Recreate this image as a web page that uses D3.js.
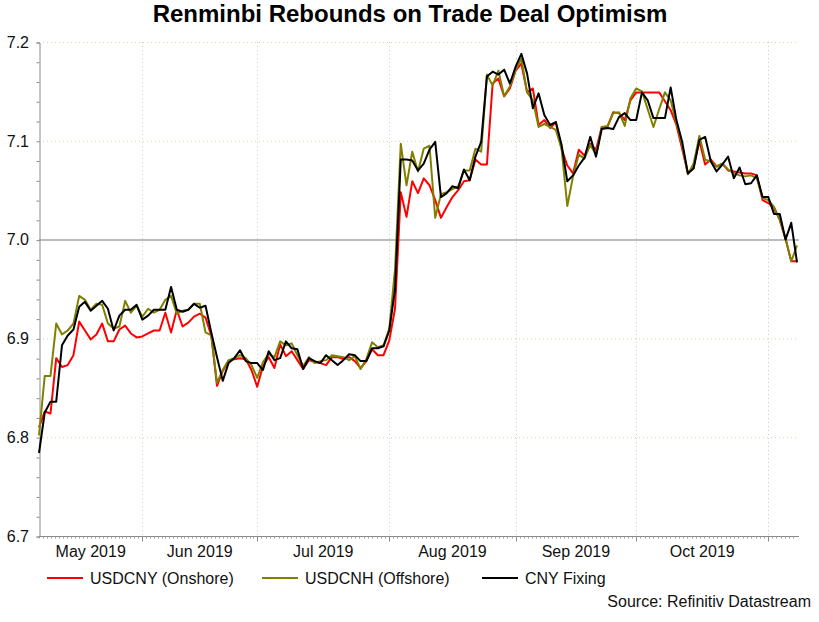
<!DOCTYPE html>
<html>
<head>
<meta charset="utf-8">
<script src="https://cdn.jsdelivr.net/npm/d3@7"></script>
<style>
  body { margin: 0; background: #fff; }
  svg { display: block; font-family: Arial, 'Liberation Sans', sans-serif; }
</style>
</head>
<body>
<svg id="chart" width="819" height="622"></svg>
<script>
const TITLE = 'Renminbi Rebounds on Trade Deal Optimism'
const SOURCE = 'Source: Refinitiv Datastream'

// business-day index where each month begins (first value = first observation)
const MONTH_BOUNDS = [0, 18, 38, 61, 83, 104, 127, 132]
const MONTH_DAYS = [26, 30, 31, 31, 30, 31, 7]
const MONTH_LABELS = ['May 2019', 'Jun 2019', 'Jul 2019', 'Aug 2019', 'Sep 2019', 'Oct 2019', '']

const Y_TICKS = [6.7, 6.8, 6.9, 7.0, 7.1, 7.2]

const SERIES_NAMES = ['USDCNY (Onshore)', 'USDCNH (Offshore)', 'CNY Fixing']
const SERIES_COLORS = ['#ff0000', '#808000', '#000000']

const USDCNY = [
  6.810, 6.826, 6.824, 6.880, 6.871, 6.873, 6.883, 6.917, 6.908, 6.899,
  6.904, 6.915, 6.897, 6.897, 6.909, 6.913, 6.905, 6.901, 6.902, 6.905,
  6.908, 6.908, 6.926, 6.906, 6.929, 6.912, 6.916, 6.922, 6.925, 6.921,
  6.903, 6.852, 6.867, 6.877, 6.879, 6.880, 6.879, 6.868, 6.851, 6.872,
  6.881, 6.870, 6.894, 6.882, 6.887, 6.878, 6.869, 6.878, 6.876, 6.875,
  6.873, 6.881, 6.881, 6.879, 6.881, 6.877, 6.870, 6.877, 6.889, 6.883,
  6.883, 6.898, 6.930, 7.048, 7.023, 7.059, 7.047, 7.062, 7.055, 7.040,
  7.022, 7.033, 7.043, 7.050, 7.059, 7.060, 7.081, 7.076, 7.076, 7.158,
  7.163, 7.145, 7.153, 7.171, 7.178, 7.149, 7.153, 7.116, 7.121, 7.113,
  7.119, 7.092, 7.075, 7.067, 7.091, 7.085, 7.097, 7.091, 7.114, 7.114,
  7.129, 7.128, 7.121, 7.141, 7.149, 7.149, 7.149, 7.149, 7.149, 7.140,
  7.131, 7.116, 7.092, 7.067, 7.074, 7.100, 7.076, 7.081, 7.074, 7.077,
  7.070, 7.069, 7.068, 7.067, 7.067, 7.065, 7.040, 7.037, 7.032, 7.020,
  7.001, 6.978, 6.978,
]

const USDCNH = [
  6.802, 6.862, 6.862, 6.915, 6.904, 6.908, 6.915, 6.943, 6.939, 6.929,
  6.935, 6.934, 6.915, 6.910, 6.912, 6.938, 6.926, 6.933, 6.922, 6.930,
  6.926, 6.929, 6.939, 6.943, 6.925, 6.928, 6.929, 6.935, 6.935, 6.906,
  6.903, 6.855, 6.868, 6.878, 6.880, 6.883, 6.880, 6.873, 6.860, 6.876,
  6.884, 6.881, 6.897, 6.893, 6.895, 6.883, 6.872, 6.881, 6.875, 6.877,
  6.878, 6.883, 6.882, 6.881, 6.878, 6.882, 6.869, 6.879, 6.896, 6.891,
  6.893, 6.910, 6.970, 7.097, 7.055, 7.089, 7.069, 7.092, 7.095, 7.022,
  7.046, 7.048, 7.051, 7.054, 7.070, 7.070, 7.092, 7.089, 7.167, 7.156,
  7.171, 7.145, 7.155, 7.172, 7.183, 7.149, 7.141, 7.114, 7.117, 7.114,
  7.111, 7.092, 7.034, 7.064, 7.086, 7.082, 7.096, 7.086, 7.114, 7.115,
  7.128, 7.129, 7.115, 7.143, 7.153, 7.150, 7.132, 7.114, 7.132, 7.149,
  7.141, 7.118, 7.096, 7.066, 7.077, 7.105, 7.081, 7.079, 7.074, 7.077,
  7.071, 7.067, 7.065, 7.064, 7.065, 7.062, 7.042, 7.040, 7.033, 7.020,
  7.001, 6.978, 6.994,
]

const CNY_FIXING = [
  6.784, 6.825, 6.836, 6.836, 6.893, 6.903, 6.909, 6.932, 6.937, 6.928,
  6.933, 6.938, 6.930, 6.908, 6.923, 6.929, 6.929, 6.934, 6.919, 6.923,
  6.929, 6.929, 6.929, 6.952, 6.929, 6.927, 6.929, 6.935, 6.931, 6.933,
  6.906, 6.881, 6.857, 6.875, 6.880, 6.888, 6.877, 6.875, 6.875, 6.868,
  6.887, 6.878, 6.880, 6.897, 6.890, 6.889, 6.869, 6.880, 6.877, 6.875,
  6.883, 6.878, 6.873, 6.878, 6.884, 6.883, 6.877, 6.877, 6.890, 6.890,
  6.892, 6.908, 6.950, 7.081, 7.081, 7.080, 7.070, 7.077, 7.091, 7.099,
  7.043, 7.047, 7.054, 7.052, 7.071, 7.060, 7.084, 7.099, 7.165, 7.170,
  7.167, 7.172, 7.158, 7.175, 7.188, 7.168, 7.133, 7.148, 7.126, 7.116,
  7.119, 7.096, 7.059, 7.065, 7.075, 7.083, 7.104, 7.084, 7.112, 7.113,
  7.112, 7.124, 7.128, 7.121, 7.121, 7.149, 7.141, 7.123, 7.123, 7.123,
  7.154, 7.121, 7.099, 7.067, 7.072, 7.101, 7.104, 7.079, 7.069, 7.076,
  7.084, 7.062, 7.073, 7.056, 7.057, 7.065, 7.043, 7.043, 7.026, 7.026,
  7.000, 7.017, 6.977,
]

class FxChart {
  constructor(selSvg) {
    this.svg = d3.select(selSvg)
    this.margins = {top: 42, right: 22, bottom: 86, left: 39}
    this.width = 819
    this.height = 622

    this.series = [USDCNY, USDCNH, CNY_FIXING].map((values, k) => ({
      name: SERIES_NAMES[k],
      color: SERIES_COLORS[k],
      values,
    }))

    this.x = d3.scaleLinear()
      .domain([0, USDCNY.length - 1])
      .range([this.margins.left, 797])
    this.y = d3.scaleLinear()
      .domain([6.7, 7.2])
      .range([this.height - this.margins.bottom, this.margins.top])

    this.draw()
  }

  drawGrid() {
    const g = this.svg.append('g').attr('class', 'grid')
    const [y0, y1] = this.y.range()

    g.selectAll('.hgrid')
      .data(Y_TICKS.filter((t) => t > 6.7 && Math.abs(t - 7) > 1e-9))
      .enter()
      .append('line')
      .attr('x1', this.margins.left)
      .attr('x2', 799)
      .attr('y1', (d) => this.y(d) + 0.5)
      .attr('y2', (d) => this.y(d) + 0.5)
      .attr('stroke', '#d2d6a8')
      .attr('stroke-dasharray', '1,3')

    g.selectAll('.vgrid')
      .data(MONTH_BOUNDS.slice(1, -1))
      .enter()
      .append('line')
      .attr('x1', (d) => Math.round(this.x(d)) + 0.5)
      .attr('x2', (d) => Math.round(this.x(d)) + 0.5)
      .attr('y1', y1)
      .attr('y2', y0)
      .attr('stroke', '#c0d2b8')
      .attr('stroke-dasharray', '1,3')

    // the 7.0 level
    g.append('line')
      .attr('x1', this.margins.left)
      .attr('x2', 799)
      .attr('y1', this.y(7.0) + 0.5)
      .attr('y2', this.y(7.0) + 0.5)
      .attr('stroke', '#a3a7ab')
      .attr('stroke-width', 1.5)
  }

  drawAxes() {
    const yAxis = d3.axisLeft(this.y)
      .tickValues(d3.range(6.7, 7.2001, 0.02))
      .tickSize(3)
      .tickFormat('')
    this.svg.append('g')
      .attr('class', 'axis axis--y')
      .attr('transform', `translate(${this.margins.left + 0.5}, 0.5)`)
      .call(yAxis)
      .call((g) => g.select('.domain').attr('stroke', '#8a8a8a'))
      .call((g) => g.selectAll('.tick line').attr('stroke', '#8a8a8a'))

    this.svg.append('g')
      .selectAll('text')
      .data(Y_TICKS)
      .enter()
      .append('text')
      .attr('x', 29)
      .attr('y', (d) => this.y(d))
      .attr('dy', '0.36em')
      .attr('text-anchor', 'end')
      .attr('font-size', 16)
      .attr('fill', '#111')
      .text((d) => d.toFixed(1))

    // x axis: a minor tick per calendar day, longer ones at month starts
    const minor = []
    MONTH_DAYS.forEach((n, m) => {
      const a = MONTH_BOUNDS[m]
      const b = MONTH_BOUNDS[m + 1]
      for (let k = 0; k < n; k++) minor.push(a + (b - a) * k / n)
    })
    const baseY = this.y(6.7) + 0.5
    const xg = this.svg.append('g').attr('class', 'axis axis--x')
    xg.append('line')
      .attr('x1', this.margins.left)
      .attr('x2', 799)
      .attr('y1', baseY)
      .attr('y2', baseY)
      .attr('stroke', '#8a8a8a')
    xg.selectAll('.minor')
      .data(minor)
      .enter()
      .append('line')
      .attr('x1', (d) => Math.round(this.x(d)) + 0.5)
      .attr('x2', (d) => Math.round(this.x(d)) + 0.5)
      .attr('y1', baseY)
      .attr('y2', baseY + 2)
      .attr('stroke', '#9a9a9a')
    xg.selectAll('.major')
      .data(MONTH_BOUNDS.slice(1, -1))
      .enter()
      .append('line')
      .attr('x1', (d) => Math.round(this.x(d)) + 0.5)
      .attr('x2', (d) => Math.round(this.x(d)) + 0.5)
      .attr('y1', baseY)
      .attr('y2', baseY + 5)
      .attr('stroke', '#8a8a8a')

    xg.selectAll('.label')
      .data(MONTH_LABELS.slice(0, -1))
      .enter()
      .append('text')
      .attr('x', (d, i) => (this.x(MONTH_BOUNDS[i]) + this.x(MONTH_BOUNDS[i + 1])) / 2)
      .attr('y', 557)
      .attr('text-anchor', 'middle')
      .attr('font-size', 16)
      .attr('fill', '#111')
      .text((d) => d)
  }

  drawLines() {
    const line = d3.line()
      .x((d, i) => this.x(i))
      .y((d) => this.y(d))

    this.svg.append('g')
      .selectAll('path')
      .data(this.series)
      .enter()
      .append('path')
      .attr('fill', 'none')
      .attr('stroke', (d) => d.color)
      .attr('stroke-width', 2)
      .attr('stroke-linejoin', 'round')
      .attr('d', (d) => line(d.values))
  }

  drawLegend() {
    const slots = [47, 262, 482]
    const legend = this.svg.append('g')
      .attr('class', 'legend')
      .selectAll('g')
      .data(this.series)
      .enter()
      .append('g')
      .attr('transform', (d, i) => `translate(${slots[i]}, 578)`)

    legend.append('line')
      .attr('x1', 0)
      .attr('x2', 36)
      .attr('stroke', (d) => d.color)
      .attr('stroke-width', 2)
    legend.append('text')
      .attr('x', 43)
      .attr('y', 6)
      .attr('font-size', 16)
      .attr('fill', '#111')
      .text((d) => d.name)
  }

  drawTitles() {
    this.svg.append('text')
      .attr('x', 410)
      .attr('y', 22)
      .attr('text-anchor', 'middle')
      .attr('font-size', 24)
      .attr('font-weight', 'bold')
      .attr('fill', '#000')
      .text(TITLE)

    this.svg.append('text')
      .attr('x', 811)
      .attr('y', 607)
      .attr('text-anchor', 'end')
      .attr('font-size', 16)
      .attr('fill', '#111')
      .text(SOURCE)
  }

  draw() {
    this.drawGrid()
    this.drawAxes()
    this.drawLines()
    this.drawLegend()
    this.drawTitles()
  }
}

new FxChart('#chart')
</script>
</body>
</html>
